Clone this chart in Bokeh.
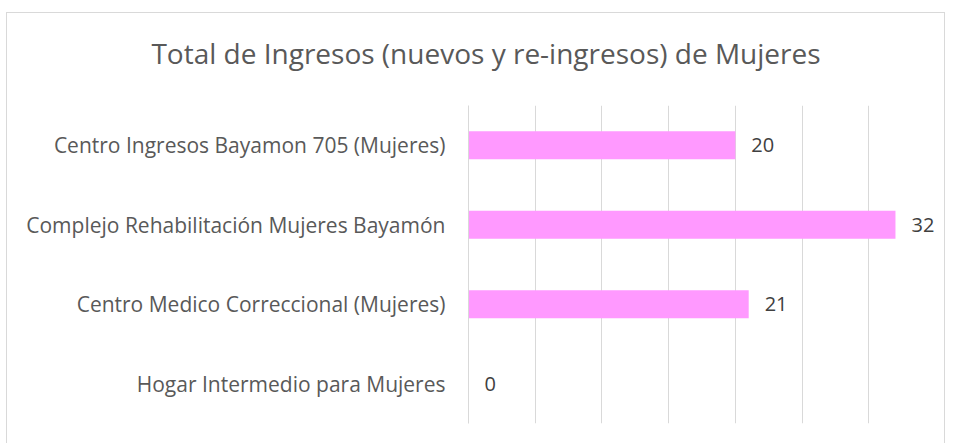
from bokeh.plotting import figure
from bokeh.layouts import column
from bokeh.models import ColumnDataSource, FactorRange, Range1d, SingleIntervalTicker, LabelSet, Div
from bokeh.core.properties import value
from bokeh.embed import file_html
from bokeh.resources import INLINE

# Data (top to bottom as shown)
categories = [
    "Centro Ingresos Bayamon 705 (Mujeres)",
    "Complejo Rehabilitación Mujeres Bayamón",
    "Centro Medico Correccional (Mujeres)",
    "Hogar Intermedio para Mujeres",
]
values = [20, 32, 21, 0]
title_text = "Total de Ingresos (nuevos y re-ingresos) de Mujeres"

FONT = "Open Sans"

cats_bt = categories[::-1]
vals_bt = values[::-1]
source = ColumnDataSource(dict(cat=cats_bt, val=vals_bt, lab=[str(v) for v in vals_bt]))

title_div = Div(
    text=("<div style=\"display:block; width:937px; box-sizing:border-box; "
          "padding-top:20px; padding-left:21px; text-align:center; "
          "font-family:'Open Sans'; font-size:28px; color:#595959; white-space:nowrap;\">"
          + title_text + "</div>"),
    width=937, height=92, margin=0,
)

p = figure(
    width=937, height=338,
    y_range=FactorRange(factors=cats_bt, range_padding=0),
    x_range=Range1d(0, 35),
    output_backend="svg", toolbar_location=None,
    min_border_left=461, min_border_right=9, min_border_top=0, min_border_bottom=20,
)
p.outline_line_color = None

p.hbar(y="cat", right="val", left=0, height=0.352, source=source,
       fill_color="#FF99FF", line_color=None)

labels = LabelSet(x="val", y="cat", text="lab", source=source, x_offset=16,
                  text_baseline="middle", text_align="left",
                  text_font=value(FONT), text_font_size="20px", text_color="#404040")
p.add_layout(labels)

# x axis hidden, grid every 5
p.xaxis.visible = False
p.xgrid.ticker = SingleIntervalTicker(interval=5)
p.xgrid.grid_line_color = "#D9D9D9"
p.xgrid.grid_line_width = 1
p.ygrid.grid_line_color = None

ya = p.yaxis[0]
ya.axis_line_color = "#D9D9D9"
ya.major_tick_line_color = None
ya.minor_tick_line_color = None
ya.major_tick_out = 0
ya.major_label_standoff = 23
ya.major_label_text_font = FONT
ya.major_label_text_font_size = "21px"
ya.major_label_text_color = "#595959"

layout = column(title_div, p, spacing=0)
layout.styles = {"margin-top": "12px", "margin-left": "6px",
                 "border-top": "1px solid #D9D9D9",
                 "border-left": "1px solid #D9D9D9", "border-right": "1px solid #D9D9D9",
                 "background": "white"}

open("out.html", "w").write(file_html(layout, INLINE))
